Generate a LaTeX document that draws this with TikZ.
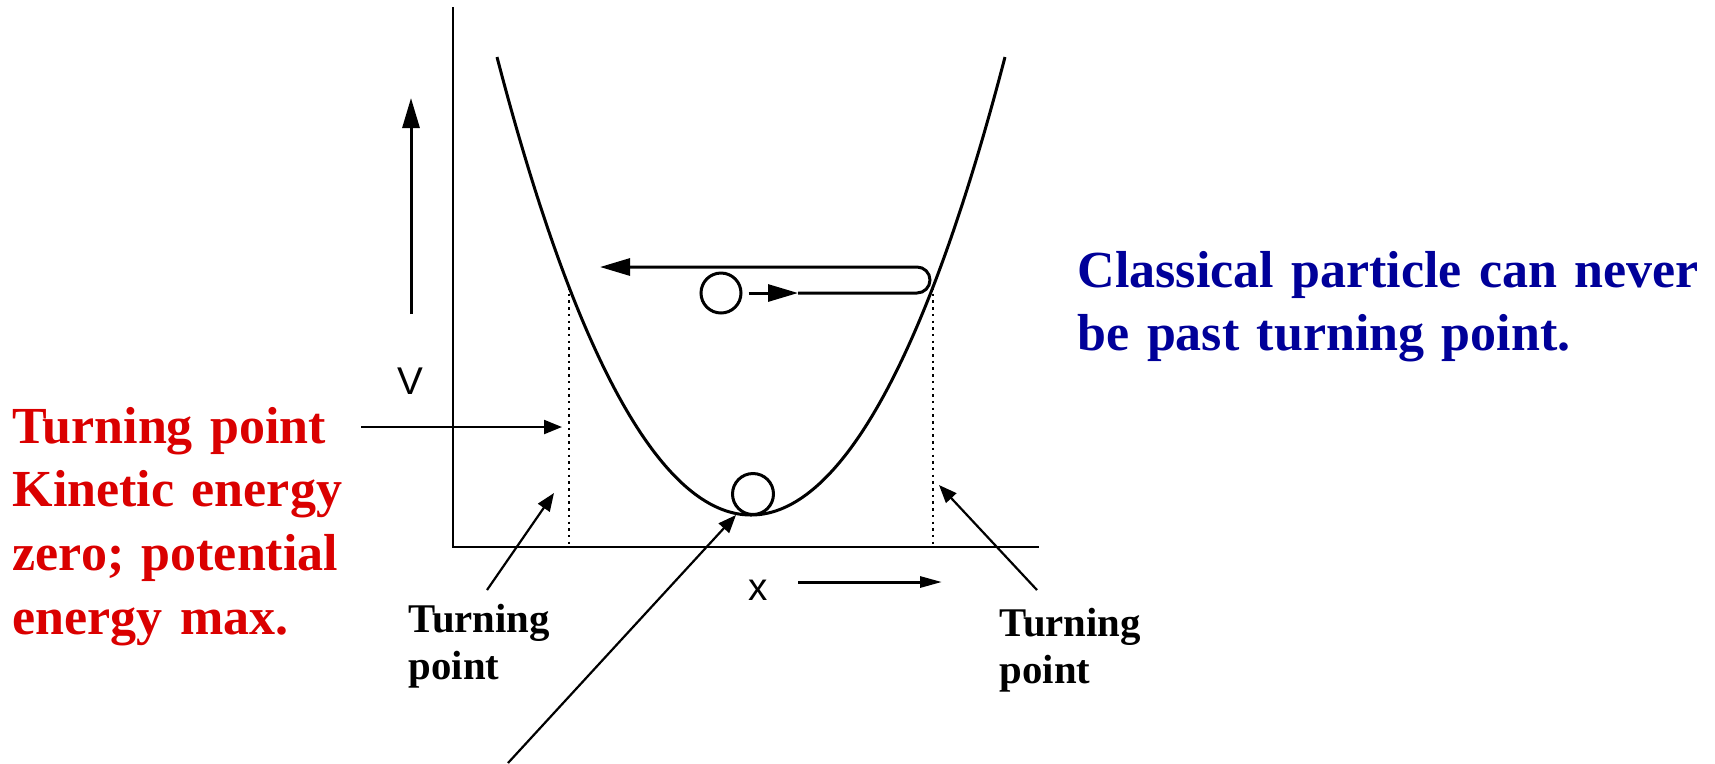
\documentclass[tikz,border=0pt]{standalone}
\usepackage{fontspec}
\setmainfont{Liberation Serif}
\setsansfont{Liberation Sans}
\usetikzlibrary{arrows.meta}
\definecolor{tred}{RGB}{218,0,0}
\definecolor{tblue}{RGB}{0,0,153}
\tikzset{
  axisline/.style={line width=0.27mm},
  curveline/.style={line width=0.3mm},
  guide/.style={line width=0.27mm, dash pattern=on 0.25mm off 0.42mm},
  bigarrow/.style={line width=0.3mm, -{Triangle[length=3mm,width=1.7mm]}},
  smallarrow/.style={line width=0.3mm, -{Triangle[length=2.2mm,width=1.1mm]}},
  pointer/.style={line width=0.22mm, -{Triangle[length=1.8mm,width=1.4mm]}},
  ball/.style={circle, draw, line width=0.3mm, inner sep=0pt},
  bigtext/.style={font=\bfseries\fontsize{14.8}{18.2}\selectfont, text width=70mm, inner sep=0pt, anchor=base west},
  lbl/.style={font=\bfseries\fontsize{11.6}{13.65}\selectfont, text width=20mm, inner sep=0pt, anchor=base west},
  axlbl/.style={font=\sffamily\fontsize{11}{13}\selectfont, inner sep=0pt}
}
\begin{document}
\begin{tikzpicture}[x=0.1mm, y=-0.1mm]
\useasboundingbox (0,0) rectangle (1715,763);

% axes
\coordinate (O) at (453,547);
\coordinate (ytop) at (453,7);
\coordinate (xend) at (1039,547);
\draw[axisline] (ytop) -- (O) -- (xend);

% potential curve
\draw[curveline] plot[domain=-254:254, samples=101, smooth]
  ({751+\x}, {515 - 66.56*(\x/100)^2 - 0.686*(\x/100)^4});

% turning point guides
\coordinate (tpL) at (569,287);
\coordinate (tpLb) at (569,547);
\coordinate (tpR) at (933,287);
\coordinate (tpRb) at (933,547);
\draw[guide] (tpL) -- (tpLb);
\draw[guide] (tpR) -- (tpRb);

% axis labels and arrows
\node[axlbl] (Vlab) at (410,381) {V};
\coordinate (vA) at (411,314);
\coordinate (vB) at (411,98);
\draw[bigarrow] (vA) -- (vB);
\node[axlbl] (xlab) at (758,590) {x};
\coordinate (xA) at (798,582);
\coordinate (xB) at (942,582);
\draw[smallarrow] (xA) -- (xB);

% particles
\node[ball, minimum size=4.0mm] (p1) at (721,293) {};
\node[ball, minimum size=4.1mm] (p2) at (753,494) {};

% motion path
\coordinate (m1) at (798,293);
\coordinate (r1) at (917,293);
\coordinate (tipL) at (600,267);
\draw[bigarrow, shorten <=0.6mm] (p1.east) -- (m1);
\draw[bigarrow] (m1) -- (r1) arc[start angle=90, end angle=-90, radius=13] -- (tipL);

% texts
\node[bigtext, text=tred] (redlab) at (12,443)
  {Turning point\\Kinetic energy\\zero; potential\\energy max.};
\node[bigtext, text=tblue] (bluelab) at (1077,287)
  {Classical particle can never\\be past turning point.};
\node[lbl] (tpLlab) at (408,632) {Turning\\point};
\node[lbl] (tpRlab) at (999,636) {Turning\\point};

% pointers
\coordinate (a1s) at (361,427);
\coordinate (a1e) at (562,427);
\draw[pointer] (a1s) -- (a1e);
\coordinate (a2s) at (487,590);
\coordinate (a2e) at (554,493);
\draw[pointer] (a2s) -- (a2e);
\coordinate (a3s) at (1037,590);
\coordinate (a3e) at (939,485);
\draw[pointer] (a3s) -- (a3e);
\coordinate (a4s) at (508,763);
\coordinate (a4e) at (736,515);
\draw[pointer] (a4s) -- (a4e);
\end{tikzpicture}
\end{document}
